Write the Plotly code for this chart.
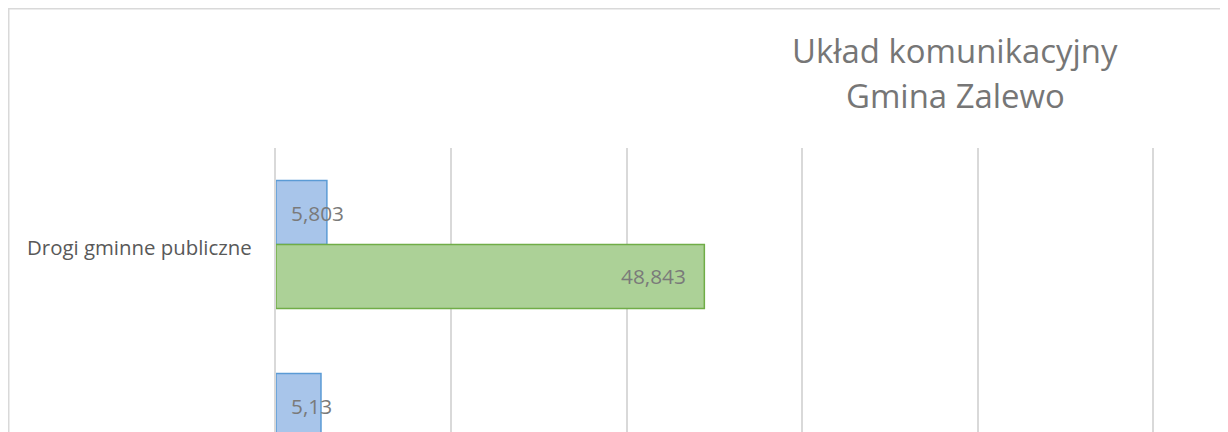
import plotly.graph_objects as go

# ---- data ----
categories = ["Drogi gminne publiczne", "Drogi powiatowe"]
series_a_name = "Seria 1"
series_a = [5.803, 5.13]
series_b_name = "Seria 2"
series_b = [48.843, None]  # second value lies outside the visible crop
title_lines = ["Układ komunikacyjny", "Gmina Zalewo"]

def fmt(v):
    s = f"{v:.3f}".rstrip("0").rstrip(".")
    return s.replace(".", ",")

# page has an 8px body margin; figure coordinates below are page - 8
W, H = 1228, 432
ML, MT = 268, 140
CAT_PX = 193.0
BARGAP = 0.337
GROUP = 1 - BARGAP
Y_TOP = -0.5
Y_BOTTOM = Y_TOP + (H - MT) / CAT_PX
PX_PER_UNIT = 8.77
X_MAX = (W - ML) / PX_PER_UNIT

FONT = "Open Sans"
LABEL_COL = "#595959"
DATA_COL = "#7a7a7a"
GRID = "#d9d9d9"

fig = go.Figure()
fig.add_trace(go.Bar(
    name=series_a_name, y=list(range(len(categories))), x=series_a, orientation="h",
    marker=dict(color="#a8c5ea", line=dict(color="#5b9bd5", width=1.5)),
))
fig.add_trace(go.Bar(
    name=series_b_name, y=list(range(len(categories))), x=series_b, orientation="h",
    marker=dict(color="#acd197", line=dict(color="#70ad47", width=1.5)),
))

plot_w = W - ML
plot_h = H - MT

def px_to_paper_x(px):
    return (px - ML) / plot_w

def px_to_paper_y(py):
    return (H - py) / plot_h

def pos_to_paper_y(p):
    return (Y_BOTTOM - p) / (Y_BOTTOM - Y_TOP)

annotations = []
for i, c in enumerate(categories):
    annotations.append(dict(
        text=c, xref="paper", yref="paper", x=px_to_paper_x(ML - 22), y=pos_to_paper_y(i),
        xanchor="right", yanchor="middle", yshift=-2, showarrow=False,
        font=dict(family=FONT, size=20.4, color=LABEL_COL),
    ))
for i, v in enumerate(series_a):
    if v is None:
        continue
    annotations.append(dict(
        text=fmt(v), xref="x", yref="y", x=0, y=i - GROUP / 4,
        xanchor="left", yanchor="middle", xshift=13, showarrow=False,
        font=dict(family=FONT, size=20.8, color=DATA_COL),
    ))
for i, v in enumerate(series_b):
    if v is None:
        continue
    annotations.append(dict(
        text=fmt(v), xref="x", yref="y", x=v, y=i + GROUP / 4,
        xanchor="right", yanchor="middle", xshift=-16, showarrow=False,
        font=dict(family=FONT, size=20.8, color=DATA_COL),
    ))
for k, line in enumerate(title_lines):
    annotations.append(dict(
        text=line, xref="paper", yref="paper",
        x=px_to_paper_x(947), y=px_to_paper_y(43 + 45 * k), xanchor="center", yanchor="middle",
        showarrow=False, font=dict(family=FONT, size=32.9, color="#767676"),
    ))

fig.update_layout(
    width=W, height=H,
    margin=dict(l=ML, r=0, t=MT, b=0, pad=0),
    paper_bgcolor="white", plot_bgcolor="white",
    barmode="group", bargap=BARGAP, bargroupgap=0,
    showlegend=False,
    annotations=annotations,
    shapes=[dict(
        type="rect", xref="paper", yref="paper",
        x0=px_to_paper_x(0.75), x1=px_to_paper_x(W + 40),
        y0=-0.5, y1=px_to_paper_y(0.75),
        line=dict(color=GRID, width=1.5), fillcolor="rgba(0,0,0,0)", layer="below",
    )],
    xaxis=dict(range=[0, X_MAX], dtick=20, tick0=0, showgrid=True, gridcolor=GRID,
               gridwidth=1.5, showticklabels=False, zeroline=False, showline=False),
    yaxis=dict(range=[Y_BOTTOM, Y_TOP], showticklabels=False, showgrid=False,
               zeroline=False, showline=True, linecolor=GRID, linewidth=2,
               tickmode="array", tickvals=list(range(len(categories))),
               ticktext=categories),
)

fig.write_html("out.html")
